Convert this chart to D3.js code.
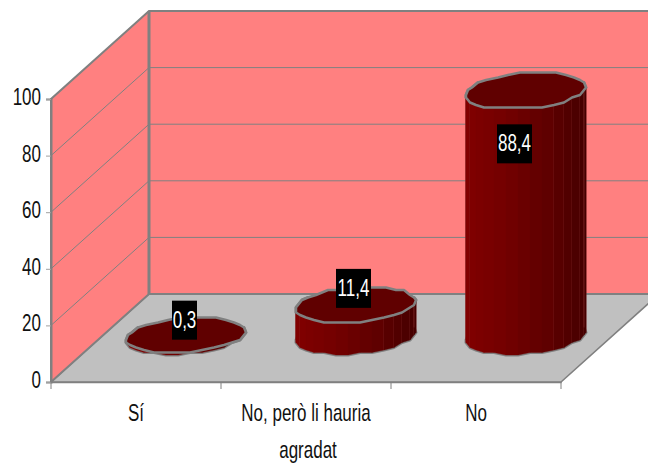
<!DOCTYPE html>
<html><head><meta charset="utf-8">
<script src="https://cdn.jsdelivr.net/npm/d3@7"></script>
<style>html,body{margin:0;padding:0;background:#fff}svg{display:block}
text{font-family:"Liberation Sans",sans-serif}</style></head>
<body><svg id="c" width="648" height="466"></svg>
<script>
const categories = ["Sí", "No, però li hauria agradat", "No"];
const values = [0.3, 11.4, 88.4];
const valueLabels = ["0,3", "11,4", "88,4"];
const yTicks = [0, 20, 40, 60, 80, 100];

const W = 648, H = 466;
const x0 = 51, x1 = 561, yBase = 382, yTop = 99;
const dx = 98, dy = -88;
const grey = "#808080";
const svg = d3.select("#c").attr("viewBox", [0, 0, W, H]);
const x = d3.scaleBand().domain(categories).range([x0, x1]);
const y = d3.scaleLinear().domain([0, 100]).range([yBase, yTop]);
const poly = (pts) => "M" + pts.map(p => p.join(",")).join("L") + "Z";

// floor
svg.append("path").attr("d", poly([[x0, yBase], [x1, yBase], [x1 + dx, yBase + dy], [x0 + dx, yBase + dy]]))
  .attr("fill", "#c0c0c0").attr("stroke", grey).attr("stroke-width", 1.5);
// left wall
svg.append("path").attr("d", poly([[x0, yBase], [x0 + dx, yBase + dy], [x0 + dx, yTop + dy], [x0, yTop]]))
  .attr("fill", "#ff8080");
// back wall
svg.append("rect").attr("x", x0 + dx).attr("y", yTop + dy).attr("width", W).attr("height", yBase - yTop)
  .attr("fill", "#ff8080");
// gridlines
yTicks.slice(1, -1).forEach(t => {
  svg.append("path").attr("d", `M${x0},${y(t)}L${x0 + dx},${y(t) + dy}L${W},${y(t) + dy}`)
    .attr("fill", "none").attr("stroke", grey).attr("stroke-width", 1);
});
// wall outlines
svg.append("path").attr("d", `M${x0},${yBase}L${x0},${yTop}L${x0 + dx},${yTop + dy}L${W},${yTop + dy}`)
  .attr("fill", "none").attr("stroke", grey).attr("stroke-width", 2);
svg.append("path").attr("d", `M${x0},${yBase}L${x0 + dx},${yBase + dy}L${W},${yBase + dy}`)
  .attr("fill", "none").attr("stroke", grey).attr("stroke-width", 2);
svg.append("line").attr("x1", x0 + dx).attr("x2", x0 + dx).attr("y1", yTop + dy).attr("y2", yBase + dy)
  .attr("stroke", grey).attr("stroke-width", 3);

// axes
const yAxis = d3.axisLeft(y).tickValues(yTicks).tickSize(5).tickFormat("");
const ga = svg.append("g").attr("transform", `translate(${x0},0)`).call(yAxis);
ga.select(".domain").attr("stroke", grey).attr("stroke-width", 2);
ga.selectAll(".tick line").attr("stroke", "#a0a0a0").attr("stroke-width", 1);
const stretched = (g, px, py, s, anchor, fill) => g.append("text")
  .attr("transform", `translate(${px},${py}) scale(0.85,1.18)`).attr("text-anchor", anchor)
  .attr("font-size", 20).attr("fill", fill).text(s);
yTicks.forEach(t => stretched(svg, 41, y(t) + 6, t, "end", "#111"));

const xAxis = d3.axisBottom(x).tickValues([]).tickSizeOuter(0);
const gb = svg.append("g").attr("transform", `translate(0,${yBase})`).call(xAxis);
gb.select(".domain").attr("stroke", grey).attr("stroke-width", 1.5);
[x0, ...categories.map(c => x(c) + x.bandwidth())].forEach(v => {
  gb.append("line").attr("x1", v).attr("x2", v).attr("y1", 0).attr("y2", 7).attr("stroke", grey).attr("stroke-width", 1);
});
const catLines = [["Sí"], ["No, però li hauria", "agradat"], ["No"]];
categories.forEach((c, i) => {
  catLines[i].forEach((s, j) => stretched(svg, x(c) + x.bandwidth() / 2 + (j ? 2 : 0), 421 + j * 37, s, "middle", "#111"));
});

// cylinders (faceted in oblique projection)
const N = 30, a = 58, b = 14, c = 18;
const floorShiftX = 49.5, floorShiftY = -46, heightScale = 0.98;
const snapX = v => Math.round(v / 2) * 2;
const snapY = v => Math.round(v / 2.5) * 2.5;
const shade = d3.scaleLinear().domain([-1, -0.3, 0.4, 1]).range(["#820000", "#720000", "#5e0000", "#450000"]);
const labelOffsets = [[-1, -15], [-2, -16], [-11, 53]];
values.forEach((v, i) => {
  const cx = x(categories[i]) + x.bandwidth() / 2 + floorShiftX;
  const cyB = yBase + floorShiftY;
  const h = (yBase - y(v)) * heightScale;
  const pt = (k, yy) => {
    const t = k / N * 2 * Math.PI;
    return [snapX(cx + a * Math.cos(t) + b * Math.sin(t)), snapY(yy - c * Math.sin(t))];
  };
  const g = svg.append("g");
  const top = d3.range(N).map(k => pt(k, cyB - h));
  const front = d3.range(N / 2 - 2, N + 3);
  const side = [];
  front.forEach(k => side.push(pt(k, cyB)));
  front.slice().reverse().forEach(k => side.push(pt(k, cyB - h)));
  g.append("path").attr("d", poly(side)).attr("fill", "#600000").attr("stroke", grey).attr("stroke-width", 3).attr("stroke-linejoin", "round");
  front.slice(0, -1).forEach(k => {
    const A = pt(k, cyB), B = pt(k + 1, cyB), C = pt(k + 1, cyB - h), D = pt(k, cyB - h);
    const u = ((A[0] + B[0]) / 2 - cx) / (a + 2);
    g.append("path").attr("d", poly([A, B, C, D])).attr("fill", shade(u)).attr("stroke", shade(u)).attr("stroke-width", .4);
    if (h > 5 && (u > 0.25 || u < -0.88)) g.append("line").attr("x1", B[0]).attr("x2", B[0]).attr("y1", B[1]).attr("y2", C[1])
      .attr("stroke", "#8a3030").attr("stroke-width", .6);
  });
  g.append("path").attr("d", poly(top)).attr("fill", "#600000").attr("stroke", grey).attr("stroke-width", 2.5).attr("stroke-linejoin", "round");

  const lx = cx + labelOffsets[i][0], ly = cyB - h + labelOffsets[i][1];
  const w = valueLabels[i].length > 3 ? 35 : 25;
  svg.append("rect").attr("x", lx - w / 2).attr("y", ly - 19.5).attr("width", w).attr("height", 39).attr("fill", "#000");
  stretched(svg, lx, ly + 7.5, valueLabels[i], "middle", "#fff");
});
</script></body></html>
